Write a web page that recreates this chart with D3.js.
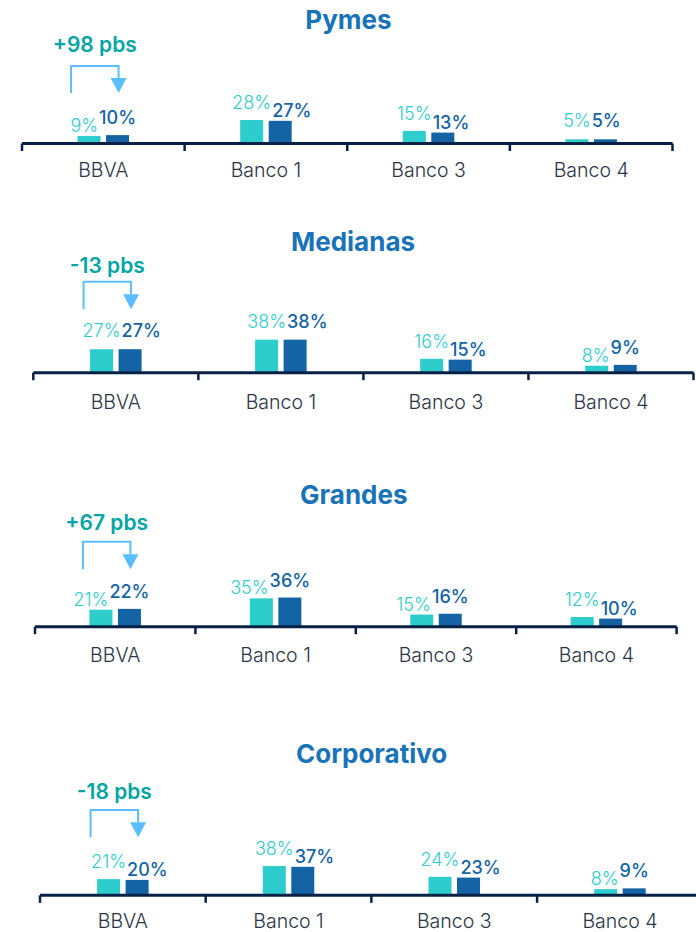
<!DOCTYPE html>
<html>
<head>
<meta charset="utf-8">
<script src="https://cdn.jsdelivr.net/npm/d3@7/dist/d3.min.js"></script>
<style>
  html, body { margin: 0; padding: 0; background: #ffffff; }
  svg { display: block; font-family: Inter, "Open Sans", "DejaVu Sans", sans-serif; }
</style>
</head>
<body>
<svg id="chart" width="696" height="932"></svg>
<script>
// ---------- DATA ----------
const categories = ["BBVA", "Banco 1", "Banco 3", "Banco 4"];
const segments = ["Pymes", "Medianas", "Grandes", "Corporativo"];
const annotations = ["+98 pbs", "-13 pbs", "+67 pbs", "-18 pbs"];
// first (light) series and second (dark) series, % share
const pymesA = [9, 28, 15, 5];
const pymesB = [10, 27, 13, 5];
const medianasA = [27, 38, 16, 8];
const medianasB = [27, 38, 15, 9];
const grandesA = [21, 35, 15, 12];
const grandesB = [22, 36, 16, 10];
const corporativoA = [21, 38, 24, 8];
const corporativoB = [20, 37, 23, 9];
const valuesA = [pymesA, medianasA, grandesA, corporativoA];
const valuesB = [pymesB, medianasB, grandesB, corporativoB];

// ---------- LAYOUT (positions only) ----------
const layout = [
  { x0: 22,   x1: 672.5, axisY: 143.5, k: 0.84, titleX: 348.5, titleY: 29,    annoY: 51.5,  brTop: 66,    brBot: 93,    labelY: 176.5 },
  { x0: 33.3, x1: 693.5, axisY: 372.7, k: 0.87, titleX: 353,   titleY: 250.5, annoY: 273.3, brTop: 281.7, brBot: 309.3, labelY: 409.3 },
  { x0: 35,   x1: 676.6, axisY: 626.7, k: 0.81, titleX: 353.8, titleY: 504,   annoY: 530,   brTop: 541.7, brBot: 569.3, labelY: 661.7 },
  { x0: 40,   x1: 702.8, axisY: 895.3, k: 0.77, titleX: 371.7, titleY: 762.5, annoY: 799.3, brTop: 810,   brBot: 837.3, labelY: 927.5 }
];

// ---------- STYLE ----------
const colA = "#2DCCCD";
const colB = "#1464A5";
const titleCol = "#1973B8";
const axisCol = "#072146";
const annoCol = "#02A5A5";
const arrowCol = "#5BBEFF";
const catCol = "#2B3446";
const barW = 23, gap = 5.5;
const capH = 13;

const svg = d3.select("#chart");

segments.forEach((seg, i) => {
  const L = layout[i];
  const g = svg.append("g");
  const x = d3.scaleBand().domain(categories).range([L.x0, L.x1]).padding(0);
  const y = d3.scaleLinear().domain([0, 100]).range([L.axisY, L.axisY - 100 * L.k]);

  // title
  g.append("text")
    .attr("x", L.titleX).attr("y", L.titleY)
    .attr("text-anchor", "middle")
    .attr("font-size", 26).attr("font-weight", 700)
    .attr("fill", titleCol)
    .text(seg);

  const rows = categories.map((c, j) => ({ c, a: valuesA[i][j], b: valuesB[i][j] }));

  // bars
  const grp = g.selectAll("g.grp").data(rows).join("g").attr("class", "grp");
  const cx = d => x(d.c) + x.bandwidth() / 2;
  grp.append("rect")
    .attr("x", d => cx(d) - gap / 2 - barW)
    .attr("y", d => y(d.a))
    .attr("width", barW)
    .attr("height", d => L.axisY - y(d.a))
    .attr("fill", colA);
  grp.append("rect")
    .attr("x", d => cx(d) + gap / 2)
    .attr("y", d => y(d.b))
    .attr("width", barW)
    .attr("height", d => L.axisY - y(d.b))
    .attr("fill", colB);

  // value labels
  grp.each(function (d) {
    const gg = d3.select(this);
    let ca = cx(d) - gap / 2 - barW / 2;
    let cb = cx(d) + gap / 2 + barW / 2;
    let ya, yb;
    if (d.a > d.b) { ya = y(d.a) - 11; yb = y(d.b) - 4; }
    else if (d.b > d.a) { yb = y(d.b) - 11; ya = y(d.a) - 4; }
    else { ya = y(d.a) - 12; yb = y(d.b) - 12; }
    const ta = gg.append("text")
      .attr("x", ca).attr("y", ya)
      .attr("text-anchor", "middle")
      .attr("font-size", 18).attr("font-weight", 300)
      .attr("fill", colA)
      .text(d.a + "%");
    const tb = gg.append("text")
      .attr("x", cb).attr("y", yb)
      .attr("text-anchor", "middle")
      .attr("font-size", 18).attr("font-weight", 500)
      .attr("fill", colB)
      .text(d.b + "%");
    // the lower label steps aside when the two would collide
    if (Math.abs(ya - yb) < capH + 1) {
      const wa = ta.node().getComputedTextLength();
      const wb = tb.node().getComputedTextLength();
      const overlap = (ca + wa / 2) - (cb - wb / 2) + 1;
      if (overlap > 0) {
        if (yb >= ya) tb.attr("x", cb + overlap);
        else ta.attr("x", ca - overlap);
      }
    }
  });

  // axis line and boundary ticks
  const bounds = categories.map(c => x(c)).concat([L.x1]);
  g.append("line")
    .attr("x1", L.x0).attr("x2", L.x1)
    .attr("y1", L.axisY).attr("y2", L.axisY)
    .attr("stroke", axisCol).attr("stroke-width", 3);
  g.selectAll("line.tk").data(bounds).join("line").attr("class", "tk")
    .attr("x1", d => d).attr("x2", d => d)
    .attr("y1", L.axisY).attr("y2", L.axisY + 7.5)
    .attr("stroke", axisCol).attr("stroke-width", 2.5);

  // category labels via axis
  const ax = g.append("g")
    .attr("transform", `translate(0,${L.labelY})`)
    .call(d3.axisBottom(x).tickSize(0).tickPadding(0));
  ax.select(".domain").remove();
  ax.selectAll("text")
    .attr("dy", 0).attr("y", 0)
    .attr("font-family", "Inter, 'Open Sans', sans-serif")
    .attr("font-size", 19.5).attr("font-weight", 300)
    .attr("fill", catCol);

  // annotation: text + bracket arrow on first category
  const d0 = rows[0];
  const left = cx(d0) - gap / 2 - barW / 2 - 18;
  const right = cx(d0) + gap / 2 + barW / 2 + 1;
  g.append("text")
    .attr("x", (left + right) / 2).attr("y", L.annoY)
    .attr("text-anchor", "middle")
    .attr("font-size", 21).attr("font-weight", 600)
    .attr("fill", annoCol)
    .text(annotations[i]);
  const headH = 15, headW = 16;
  g.append("path")
    .attr("d", `M${left},${L.brBot} V${L.brTop} H${right} V${L.brBot - headH}`)
    .attr("fill", "none").attr("stroke", arrowCol).attr("stroke-width", 2);
  g.append("path")
    .attr("d", `M${right - headW / 2},${L.brBot - headH} L${right + headW / 2},${L.brBot - headH} L${right},${L.brBot} Z`)
    .attr("fill", arrowCol);
});
</script>
</body>
</html>
